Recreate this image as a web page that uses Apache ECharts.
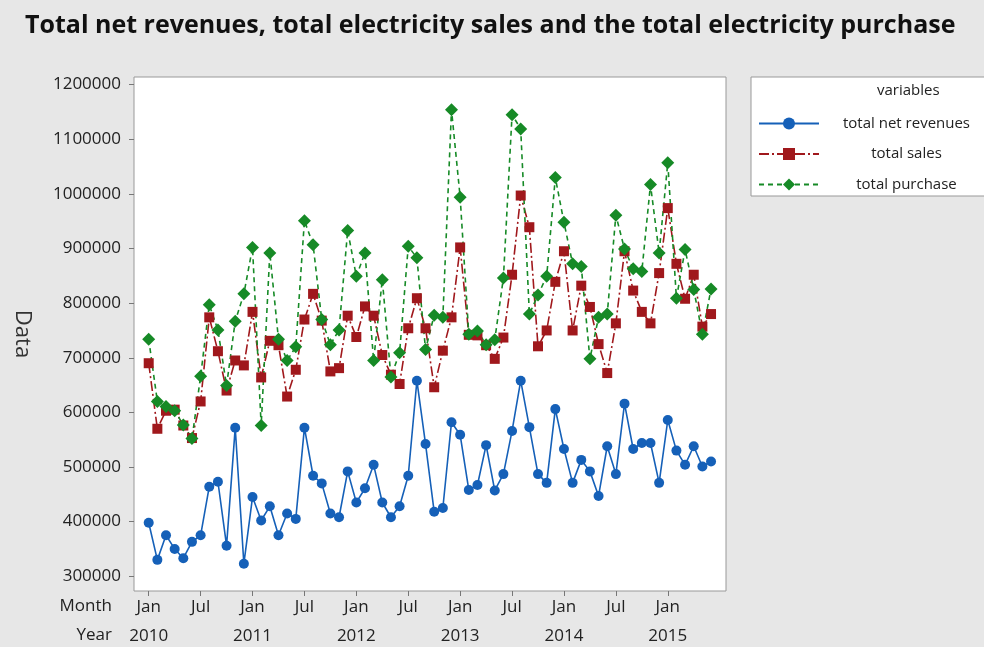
<!DOCTYPE html>
<html>
<head>
    <meta charset="utf-8" />
    <title>Total net revenues, sales and purchase</title>
    <script src="https://cdn.jsdelivr.net/npm/echarts@6/dist/echarts.min.js"></script>
</head>
<body style="margin:0;background:#e7e7e7;">
    <div id="main" style="width:984px;height:647px;"></div>
    <script type="text/javascript">
        // monthly values, Jan 2010 .. Jun 2015
        var revenues = [398000, 330000, 375000, 350000, 333000, 363000, 375000, 464000, 473000, 356000, 572000, 323000,
            445000, 402000, 428000, 375000, 415000, 405000, 572000, 484000, 470000, 415000, 408000, 492000,
            435000, 461000, 504000, 435000, 408000, 428000, 484000, 658000, 542000, 418000, 425000, 582000,
            559000, 458000, 467000, 540000, 457000, 487000, 566000, 658000, 573000, 487000, 471000, 606000,
            533000, 471000, 513000, 492000, 447000, 538000, 487000, 616000, 533000, 544000, 544000, 471000,
            586000, 530000, 504000, 538000, 501000, 510000];
        var sales = [690000, 570000, 603000, 605000, 576000, 553000, 620000, 774000, 712000, 640000, 695000, 686000,
            784000, 664000, 731000, 723000, 629000, 678000, 770000, 817000, 768000, 675000, 681000, 777000,
            738000, 794000, 777000, 705000, 669000, 652000, 754000, 809000, 754000, 646000, 713000, 774000,
            902000, 742000, 741000, 723000, 698000, 737000, 852000, 997000, 939000, 721000, 750000, 839000,
            895000, 750000, 832000, 793000, 725000, 672000, 763000, 895000, 823000, 784000, 763000, 855000,
            974000, 872000, 808000, 852000, 757000, 780000];
        var purchase = [734000, 620000, 611000, 603000, 577000, 552000, 666000, 797000, 751000, 649000, 767000, 817000,
            902000, 576000, 892000, 734000, 695000, 720000, 951000, 907000, 770000, 724000, 751000, 933000,
            849000, 892000, 695000, 843000, 665000, 709000, 904000, 883000, 715000, 778000, 774000, 1154000,
            994000, 743000, 749000, 724000, 733000, 846000, 1145000, 1119000, 780000, 815000, 849000, 1030000,
            948000, 872000, 867000, 698000, 774000, 780000, 961000, 899000, 863000, 858000, 1017000, 892000,
            1057000, 809000, 898000, 825000, 743000, 826000];

        var yTicks = [300000, 400000, 500000, 600000, 700000, 800000, 900000, 1000000, 1100000, 1200000];
        var xTicks = [0, 6, 12, 18, 24, 30, 36, 42, 48, 54, 60];
        var xTickMonths = ['Jan', 'Jul', 'Jan', 'Jul', 'Jan', 'Jul', 'Jan', 'Jul', 'Jan', 'Jul', 'Jan'];
        var xTickYears = ['2010', '', '2011', '', '2012', '', '2013', '', '2014', '', '2015'];

        var FONT = 'Open Sans';

        function toPairs(arr) {
            var out = [];
            for (var i = 0; i < arr.length; i++) {
                out.push([i, arr[i]]);
            }
            return out;
        }

        var myChart = echarts.init(document.getElementById('main'));

        var option = {
            backgroundColor: '#e7e7e7',
            animation: false,
            textStyle: { fontFamily: FONT },
            title: {
                text: 'Total net revenues, total electricity sales and the total electricity purchase',
                left: 20,
                top: 8,
                textStyle: { fontFamily: FONT, fontSize: 25, fontWeight: 'bold', color: '#111' }
            },
            legend: {
                orient: 'vertical',
                left: 751,
                top: 77,
                padding: [39, 20, 4, 7],
                itemWidth: 60,
                itemHeight: 15,
                itemGap: 15.5,
                backgroundColor: '#fff',
                borderColor: '#999',
                borderWidth: 1,
                data: ['total net revenues', 'total sales', 'total purchase'],
                formatter: function (name) {
                    return '{c|' + name + '}';
                },
                textStyle: {
                    rich: {
                        c: { width: 165, align: 'center', fontSize: 15, lineHeight: 14, color: '#222', fontFamily: FONT }
                    }
                }
            },
            graphic: [
                { type: 'text', left: 877, top: 83, z: 100, style: { text: 'variables', fontSize: 15, fill: '#222', fontFamily: FONT } },
                { type: 'text', right: 872, top: 598, style: { text: 'Month', fontSize: 17, fill: '#222', fontFamily: FONT } },
                { type: 'text', right: 872, top: 627, style: { text: 'Year', fontSize: 17, fill: '#222', fontFamily: FONT } }
            ],
            grid: {
                left: 134,
                top: 77,
                width: 592,
                height: 514,
                containLabel: false,
                outerBoundsMode: 'none',
                show: true,
                backgroundColor: '#fff',
                borderColor: '#999',
                borderWidth: 1
            },
            xAxis: {
                type: 'value',
                min: -1.7,
                max: 66.73,
                splitLine: { show: false },
                axisLine: { show: false, onZero: false },
                axisTick: { show: true, length: 5, customValues: xTicks, lineStyle: { color: '#777' } },
                axisLabel: {
                    customValues: xTicks,
                    margin: 2,
                    lineHeight: 29,
                    fontSize: 17,
                    color: '#222',
                    formatter: function (v) {
                        var k = xTicks.indexOf(Math.round(v));
                        if (k < 0) return '';
                        return xTickYears[k] ? xTickMonths[k] + '\n' + xTickYears[k] : xTickMonths[k];
                    }
                }
            },
            yAxis: {
                type: 'value',
                min: 273000,
                max: 1214000,
                name: 'Data',
                nameLocation: 'middle',
                nameGap: 101,
                nameRotate: -90,
                nameTextStyle: { fontSize: 22, color: '#333', fontFamily: FONT },
                splitLine: { show: false },
                axisLine: { show: false, onZero: false },
                axisTick: { show: true, length: 5, customValues: yTicks, lineStyle: { color: '#777' } },
                axisLabel: {
                    customValues: yTicks,
                    margin: 13,
                    fontSize: 17,
                    color: '#222',
                    formatter: function (v) {
                        return String(Math.round(v));
                    }
                }
            },
            series: [
                {
                    name: 'total net revenues',
                    type: 'line',
                    data: toPairs(revenues),
                    symbol: 'circle',
                    symbolSize: 10,
                    itemStyle: { color: '#1560b8' },
                    lineStyle: { color: '#1560b8', width: 1.6 }
                },
                {
                    name: 'total sales',
                    type: 'line',
                    data: toPairs(sales),
                    symbol: 'rect',
                    symbolSize: 10,
                    itemStyle: { color: '#a0181c' },
                    lineStyle: { color: '#a0181c', width: 1.6, type: [10, 3, 2, 3] }
                },
                {
                    name: 'total purchase',
                    type: 'line',
                    data: toPairs(purchase),
                    symbol: 'diamond',
                    symbolSize: 13,
                    itemStyle: { color: '#168a26' },
                    lineStyle: { color: '#168a26', width: 1.6, type: [5, 4] }
                }
            ]
        };
        myChart.setOption(option);
    </script>
</body>
</html>
